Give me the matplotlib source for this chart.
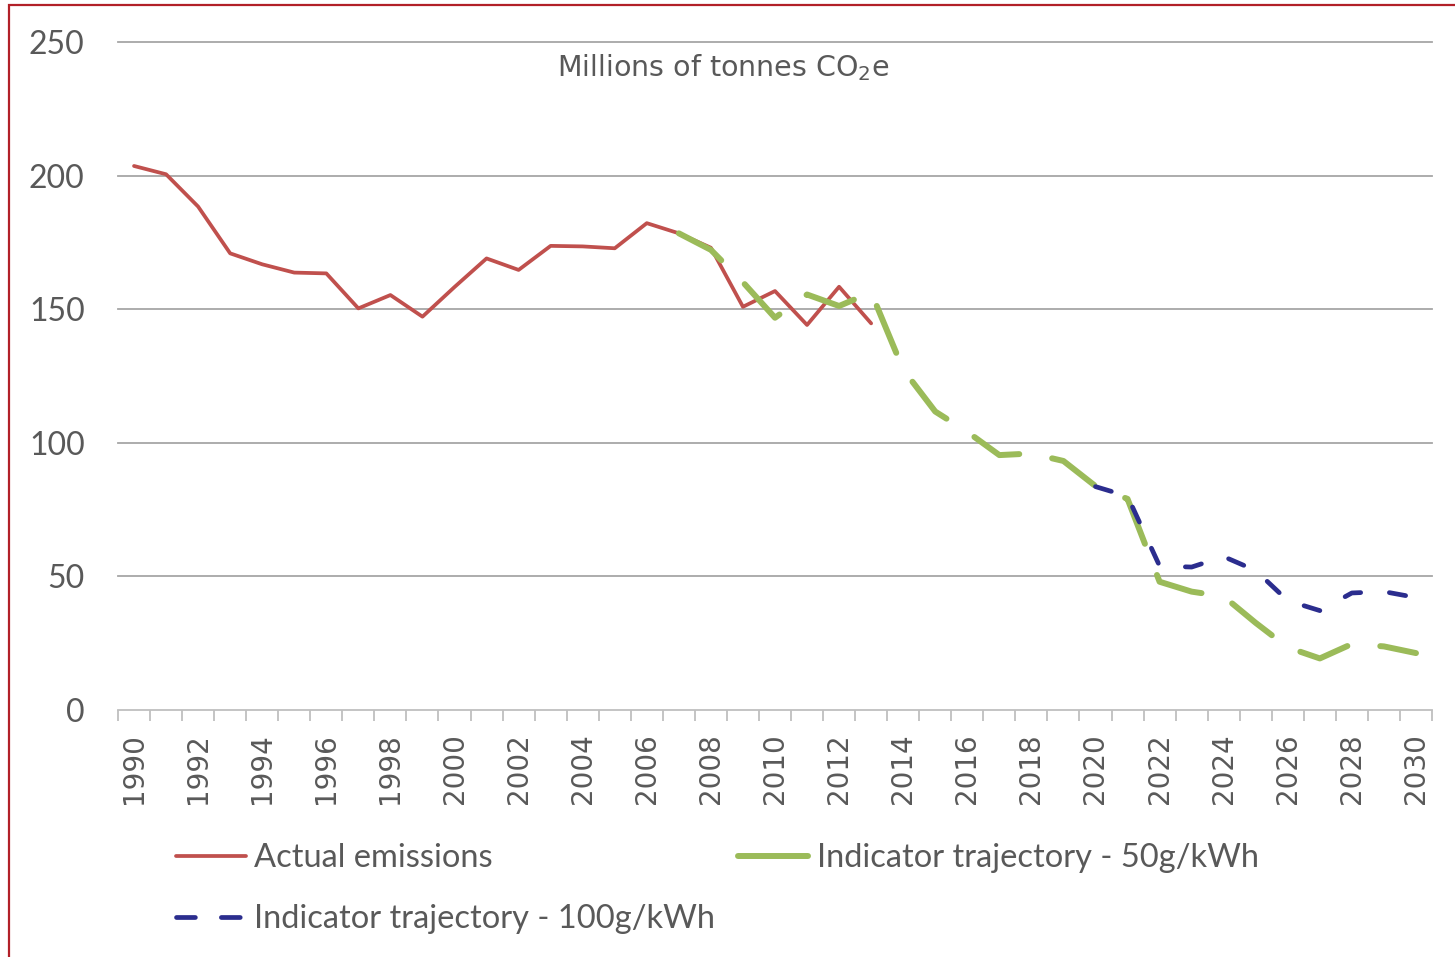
import matplotlib
matplotlib.use('Agg')
import matplotlib.pyplot as plt
from matplotlib.lines import Line2D
from matplotlib.patches import Rectangle
from matplotlib.ticker import FixedLocator, MultipleLocator

# categories
years = list(range(1990, 2031))

# Actual emissions, 1990-2013
actual_start = 1990
actual = [203.6, 200.5, 188.4, 170.9, 166.8, 163.7, 163.4, 150.3, 155.3, 147.2,
          158.3, 169.0, 164.7, 173.7, 173.5, 172.8, 182.2, 178.4, 173.0, 150.9,
          156.8, 144.1, 158.4, 144.7]

# Indicator trajectory - 50g/kWh, 2007-2030
traj50_start = 2007
traj50 = [178.4, 172.2, 160.1, 146.8, 155.5, 151.2, 156.3, 127.4, 111.7, 104.1,
          95.4, 96.0, 93.2, 83.8, 79.0, 48.0, 44.3, 42.5, 32.6, 23.4,
          19.3, 24.7, 23.8, 21.3]

# Indicator trajectory - 100g/kWh, 2020-2030
traj100_start = 2020
traj100 = [83.6, 80.0, 53.9, 53.5, 57.4, 52.2, 40.9, 37.2, 43.8, 44.3, 42.1]

y_ticks = [0, 50, 100, 150, 200, 250]

RED = '#C0504D'
GREEN = '#9BBB59'
BLUE = '#2B2D8E'
TXT = '#595959'


def xs(start, vals):
    i0 = years.index(start)
    return list(range(i0, i0 + len(vals)))


fig = plt.figure(figsize=(14.55, 9.57), dpi=100, facecolor='white')
ax = fig.add_axes([118 / 1455, 1 - 710 / 957, (1432 - 118) / 1455, (710 - 42) / 957])

ax.plot(xs(actual_start, actual), actual, color=RED, lw=2.7,
        solid_joinstyle='round', solid_capstyle='round', zorder=3)
ax.plot(xs(traj50_start, traj50), traj50, color=GREEN, lw=4.3,
        dashes=(8.5, 5.6), dash_capstyle='round', dash_joinstyle='round', zorder=4)
ax.plot(xs(traj100_start, traj100), traj100, color=BLUE, lw=3.4,
        dashes=(3.5, 6.1), dash_capstyle='round', dash_joinstyle='round', zorder=5)

ax.set_xlim(-0.5, len(years) - 0.5)
ax.set_ylim(0, 250)

# y axis
ax.set_yticks(y_ticks)
ax.tick_params(axis='y', length=0, pad=24, labelsize=23, labelcolor=TXT)
for lab in ax.get_yticklabels():
    lab.set_fontfamily(['Lato', 'DejaVu Sans'])
ax.yaxis.grid(True, color='#A6A6A6', lw=1.3)
gls = ax.get_ygridlines()
gls[0].set_visible(False)
for gl in gls:
    gl.set_clip_on(False)
ax.set_axisbelow(True)

# x axis: labels every second year, tick marks between categories
major = [i for i, y in enumerate(years) if y % 2 == 0]
ax.xaxis.set_major_locator(FixedLocator(major))
ax.set_xticklabels([str(years[i]) for i in major], rotation=90,
                   fontfamily='DejaVu Sans', fontsize=20, color=TXT)
ax.xaxis.set_minor_locator(MultipleLocator(1, offset=0.5))
ax.tick_params(axis='x', which='major', length=0, pad=17)
ax.tick_params(axis='x', which='minor', length=8, width=1.3, color='#BFBFBF', direction='out')

for s in ['top', 'right', 'left']:
    ax.spines[s].set_visible(False)
ax.spines['bottom'].set_color('#BFBFBF')
ax.spines['bottom'].set_linewidth(1.3)

ax.text(0.461, 0.961, r'Millions of tonnes CO$_2$e', transform=ax.transAxes,
        ha='center', va='center', fontsize=20.5, color=TXT, fontfamily='DejaVu Sans')

# legend
h_act = Line2D([], [], color=RED, lw=2.7, solid_capstyle='round')
h_50 = Line2D([], [], color=GREEN, lw=4.3, solid_capstyle='round')
h_100 = Line2D([], [], color=BLUE, lw=3.4, dashes=(4.0, 5.5), dash_capstyle='round')
fig.legend([h_act, h_100, h_50],
           ['Actual emissions', 'Indicator trajectory - 100g/kWh', 'Indicator trajectory - 50g/kWh'],
           ncol=2, loc='upper left', bbox_to_anchor=(176 / 1455, 1 - 843 / 957),
           frameon=False, borderpad=0, borderaxespad=0, handlelength=2.15,
           handletextpad=0.25, columnspacing=0.7, labelspacing=0.95,
           prop={'family': ['Lato', 'DejaVu Sans'], 'size': 23.5}, labelcolor=TXT)

# chart frame
fig.add_artist(Rectangle((9 / 1455, -0.05), 1.2, 1.05 - 5 / 957, transform=fig.transFigure,
                         fill=False, ec='#B22028', lw=1.6, clip_on=False))

fig.savefig('out.png', dpi=100)
